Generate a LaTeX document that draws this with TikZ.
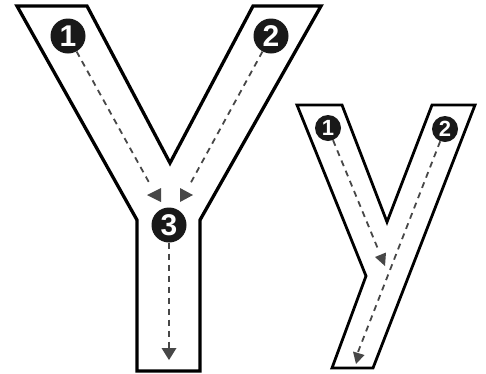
\documentclass[tikz,border=0pt]{standalone}
\usepackage{fontspec}
\setmainfont{Liberation Sans}
\begin{document}
\begin{tikzpicture}[x=1pt,y=-1pt,
  letter/.style={draw=black, line width=3.3pt, fill=white, line join=miter},
  letterthin/.style={letter, line width=2.8pt},
  numbig/.style={circle, fill=black!90, inner sep=0pt, minimum size=35pt, text=white,
    font=\fontsize{30}{30}\selectfont\bfseries},
  numsmall/.style={circle, fill=black!90, inner sep=0pt, minimum size=26pt, text=white,
    font=\fontsize{22}{22}\selectfont\bfseries},
  guide/.style={draw=black!72, line width=1.8pt, dash pattern=on 6pt off 5pt},
  head/.style={fill=black!72}]
\useasboundingbox (0,0) rectangle (486,373);

% capital Y
\draw[letter] (17,6) -- (87,6) -- (170,163) -- (253,6) -- (321,6) -- (200,220)
  -- (200,371) -- (137,371) -- (137,220) -- cycle;
% small y
\draw[letterthin] (297,105) -- (342,105) -- (387,222) -- (432,105) -- (475,105)
  -- (373,368) -- (332,368) -- (366,276) -- cycle;

% numbered circles
\node[numbig] (b1) at (68,36) {1};
\node[numbig] (b2) at (271,36) {2};
\node[numbig] (b3) at (169,225) {3};
\node[numsmall] (s1) at (328,128) {1};
\node[numsmall] (s2) at (445,129) {2};

% end coordinates
\coordinate (e1) at (151,186);
\coordinate (e2) at (189,186);
\coordinate (e3) at (169,348);
\coordinate (f1) at (378,249);
\coordinate (f2) at (358,352);

% guides
\draw[guide] (b1) -- (e1);
\draw[guide] (b2) -- (e2);
\draw[guide] (b3) -- (e3);
\draw[guide] (s1) -- (f1);
\draw[guide] (s2) -- (f2);

% arrowheads
\fill[head] (147,195) -- (161,188) -- (161,202) -- cycle;
\fill[head] (193,195) -- (180,188) -- (180,202) -- cycle;
\fill[head] (161.5,348) -- (176.5,348) -- (169,360) -- cycle;
\fill[head] (375,257) -- (386,252.5) -- (385,266) -- cycle;
\fill[head] (353,351.5) -- (364.5,355) -- (356,364) -- cycle;
\end{tikzpicture}
\end{document}
